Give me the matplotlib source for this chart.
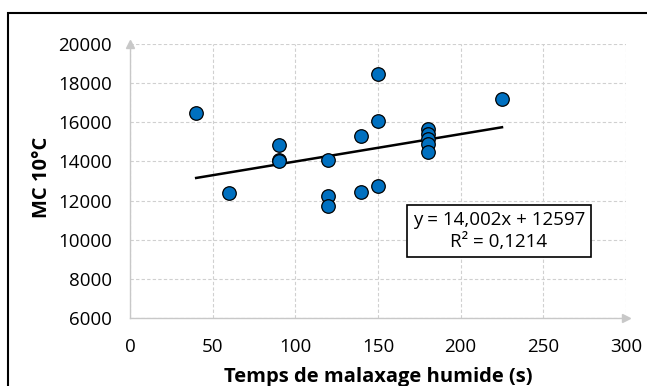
import matplotlib.pyplot as plt
from matplotlib.patches import Rectangle

# temps de malaxage humide (s) et MC 10°C
temps = [40, 60, 90, 90, 90, 120, 120, 120, 140, 140,
         150, 150, 150, 180, 180, 180, 180, 180, 225]
mc10 = [16450, 12400, 14850, 14050, 14000, 14100, 12250, 11750, 15300, 12450,
        18450, 16050, 12750, 15650, 15400, 15150, 14900, 14500, 17200]

# courbe de tendance linéaire
pente = 14.002
origine = 12597
r2 = 0.1214

xticks = [0, 50, 100, 150, 200, 250, 300]
yticks = [6000, 8000, 10000, 12000, 14000, 16000, 18000, 20000]

plt.rcParams['font.family'] = ['Open Sans', 'DejaVu Sans']

fig = plt.figure(figsize=(6.47, 3.86), dpi=100)
ax = fig.add_axes([0.201, 0.176, 0.7665, 0.71])

ax.set_xlim(0, 300)
ax.set_ylim(6000, 20000)
ax.set_xticks(xticks)
ax.set_yticks(yticks)
ax.tick_params(labelsize=13.5, length=0, colors='black')
ax.tick_params(axis='y', pad=13)
ax.tick_params(axis='x', pad=14)

ax.grid(True, color='#d0d0d0', linestyle=(0, (3, 2)), linewidth=0.8)
ax.set_axisbelow(True)
for s in ['top', 'right']:
    ax.spines[s].set_visible(False)
for s in ['left', 'bottom']:
    ax.spines[s].set_color('#c8c8c8')
    ax.spines[s].set_linewidth(1.0)

# flèches au bout des axes
ax.plot(1, 0, '>', transform=ax.transAxes, color='#c8c8c8', ms=6, clip_on=False)
ax.plot(0, 1, '^', transform=ax.transAxes, color='#c8c8c8', ms=6, clip_on=False)

xs = [min(temps), max(temps)]
ax.plot(xs, [pente * x + origine for x in xs], color='black', lw=1.8, zorder=3)

ax.scatter(temps, mc10, s=95, color='#0070C0', edgecolor='black',
           linewidth=0.9, zorder=4)

eq = f"y = {pente:.3f}x + {origine}".replace('.', ',')
r2txt = f"R² = {r2:.4f}".replace('.', ',')
ax.text(0.744, 0.317, eq + "\n" + r2txt, transform=ax.transAxes,
        ha='center', va='center', fontsize=13.5, linespacing=1.3,
        bbox=dict(boxstyle='square,pad=0.3', facecolor='white',
                  edgecolor='black', linewidth=1.2), zorder=5)

ax.set_xlabel('Temps de malaxage humide (s)', fontsize=14.5, fontweight='bold')
ax.xaxis.set_label_coords(0.5, -0.178)
ax.set_ylabel('MC 10°C', fontsize=14.5, fontweight='bold')
ax.yaxis.set_label_coords(-0.158, 0.515)

# cadre du graphique
fig.patches.append(Rectangle((8 / 647, -0.1), 1.0, 1 - 13 / 386 + 0.1,
                             transform=fig.transFigure, fill=False,
                             edgecolor='black', linewidth=1.5))

fig.savefig('out.png', dpi=100)
